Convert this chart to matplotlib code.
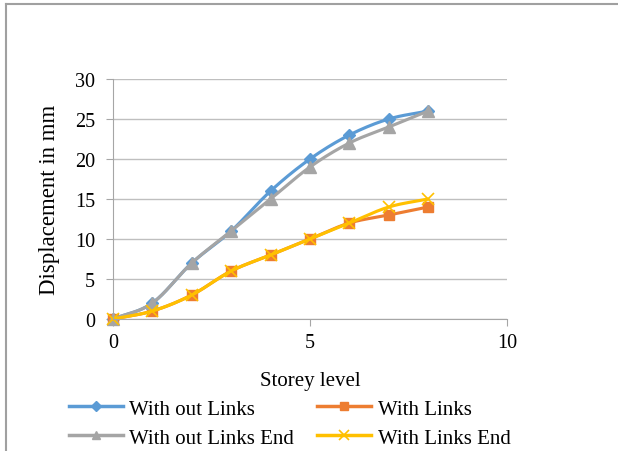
import numpy as np
import matplotlib
matplotlib.use("Agg")
import matplotlib.pyplot as plt
from matplotlib.lines import Line2D

storey = [0, 1, 2, 3, 4, 5, 6, 7, 8]
without_links = [0, 2, 7, 11, 16, 20, 23, 25, 26]
with_links = [0, 1, 3, 6, 8, 10, 12, 13, 14]
without_links_end = [0, 2, 7, 11, 15, 19, 22, 24, 26]
with_links_end = [0, 1, 3, 6, 8, 10, 12, 14, 15]


def smooth(x, y, n=20):
    """Catmull-Rom curve through the points, like Excel's smoothed line."""
    x = np.asarray(x, float)
    y = np.asarray(y, float)
    px = np.concatenate([[2 * x[0] - x[1]], x, [2 * x[-1] - x[-2]]])
    py = np.concatenate([[2 * y[0] - y[1]], y, [2 * y[-1] - y[-2]]])
    t = np.linspace(0, 1, n, endpoint=False)
    xs, ys = [], []
    for i in range(1, len(px) - 2):
        for p, out in ((px, xs), (py, ys)):
            p0, p1, p2, p3 = p[i - 1], p[i], p[i + 1], p[i + 2]
            out.extend(0.5 * (2 * p1 + (-p0 + p2) * t
                              + (2 * p0 - 5 * p1 + 4 * p2 - p3) * t ** 2
                              + (-p0 + 3 * p1 - 3 * p2 + p3) * t ** 3))
    xs.append(x[-1])
    ys.append(y[-1])
    return xs, ys


plt.rcParams['font.family'] = ['Liberation Serif', 'DejaVu Serif']
plt.rcParams['font.size'] = 15

fig = plt.figure(figsize=(6.18, 4.52), dpi=100)
ax = fig.add_axes([0.1828, 0.292, 0.6375, 0.531])

series = [
    ("With out Links", without_links, "#5B9BD5", "D", 6, {}),
    ("With Links", with_links, "#ED7D31", "s", 7, {}),
    ("With out Links End", without_links_end, "#A5A5A5", "^", 8, {}),
    ("With Links End", with_links_end, "#FFC000", "x", 9, {"markeredgewidth": 1.2}),
]

handles = {}
for name, vals, col, mk, ms, extra in series:
    sx, sy = smooth(storey, vals)
    ax.plot(sx, sy, color=col, lw=2.25, solid_capstyle='round', clip_on=False)
    ax.plot(storey, vals, ls='none', marker=mk, ms=ms, color=col, clip_on=False, **extra)
    handles[name] = Line2D([], [], color=col, lw=2.5, marker=mk, ms=ms * 0.8, **extra)

ax.set_xlim(0, 10)
ax.set_ylim(0, 30)
ax.set_xticks([0, 5, 10])
ax.set_yticks(range(0, 31, 5))
ax.grid(axis='y', color='#BFBFBF', lw=1)
ax.set_axisbelow(True)
for s in ['top', 'right']:
    ax.spines[s].set_visible(False)
for s in ['left', 'bottom']:
    ax.spines[s].set_color('#A6A6A6')
ax.tick_params(colors='#A6A6A6', labelcolor='black', length=5, labelsize=14.5)
ax.tick_params(axis='y', pad=8)
ax.tick_params(axis='x', pad=5)

ax.set_xlabel("Storey level", labelpad=14)
ax.set_ylabel("Displacement in mm", labelpad=11, fontsize=16.5)

# legend fills column-first, so order gives rows: blue/orange, gray/yellow
order = ["With out Links", "With out Links End", "With Links", "With Links End"]
fig.legend([handles[k] for k in order], order, ncol=2, frameon=False,
           loc='lower left', bbox_to_anchor=(0.098, -0.011), handlelength=2.6,
           handletextpad=0.3, columnspacing=1.1, labelspacing=0.45,
           borderaxespad=0.0)

# outer frame (left and top edges visible)
fig.add_artist(Line2D([0.009, 0.009], [0, 0.99], color='#A0A0A0', lw=1.5,
                      transform=fig.transFigure))
fig.add_artist(Line2D([0.009, 1.0], [0.99, 0.99], color='#A0A0A0', lw=1.5,
                      transform=fig.transFigure))

fig.savefig("out.png", dpi=100)
